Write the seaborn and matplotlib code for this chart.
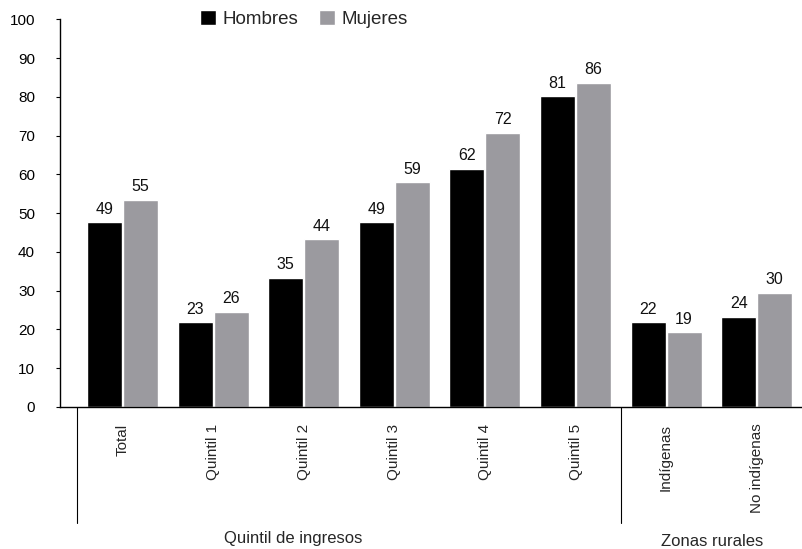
import pandas as pd
import matplotlib.pyplot as plt
import seaborn as sns

# --- Data ---
CATEGORIES = ["Total", "Quintil 1", "Quintil 2", "Quintil 3", "Quintil 4",
              "Quintil 5", "Indígenas", "No indígenas"]
SERIES = ["Hombres", "Mujeres"]

# bar heights as drawn in the reference
HOMBRES = [47.7, 21.9, 33.3, 47.7, 61.4, 80.2, 21.9, 23.2]
MUJERES = [53.4, 24.5, 43.3, 58.0, 70.7, 83.6, 19.3, 29.4]

# printed value labels
HOMBRES_LABELS = ["49", "23", "35", "49", "62", "81", "22", "24"]
MUJERES_LABELS = ["55", "26", "44", "59", "72", "86", "19", "30"]

GROUP_LABELS = ["Quintil de ingresos", "Zonas rurales"]

COLORS = ["#000000", "#9b9a9f"]


def main() -> None:
    df = pd.DataFrame({
        "categoria": CATEGORIES * 2,
        "sexo": [SERIES[0]] * len(CATEGORIES) + [SERIES[1]] * len(CATEGORIES),
        "valor": HOMBRES + MUJERES,
    })

    sns.set_style("white")
    plt.rcParams["font.family"] = ["Liberation Sans", "DejaVu Sans"]

    fig = plt.figure(figsize=(8.02, 5.49), dpi=100)
    ax = fig.add_axes([0.0748, 0.2587, 0.9252, 0.7061])

    sns.barplot(
        data=df, x="categoria", y="valor", hue="sexo",
        order=CATEGORIES, hue_order=SERIES, palette=COLORS,
        width=0.795, gap=0.03, errorbar=None, saturation=1, ax=ax,
    )

    for cont, labs in zip(ax.containers, [HOMBRES_LABELS, MUJERES_LABELS]):
        ax.bar_label(cont, labels=labs, padding=4, fontsize=11.5, color="#111111")

    ax.set_ylim(0, 100)
    ax.set_xlim(-0.69, 7.5)
    ax.set_yticks(range(0, 101, 10))
    ax.set_xlabel("")
    ax.set_ylabel("")

    for side in ["top", "right"]:
        ax.spines[side].set_visible(False)
    for side in ["left", "bottom"]:
        ax.spines[side].set_color("black")
        ax.spines[side].set_linewidth(1.0)

    ax.tick_params(axis="y", direction="out", length=3, width=0.8,
                   pad=15, labelsize=11, colors="black", left=True)
    ax.tick_params(axis="x", length=0, pad=12, labelsize=11)
    plt.setp(ax.get_xticklabels(), rotation=90, va="top", ha="center")

    # group separators below the axis
    trans = ax.get_xaxis_transform()
    for xpos in [-0.5, 5.5]:
        ax.plot([xpos, xpos], [0, -0.3], transform=trans, color="black",
                lw=0.8, clip_on=False)
    ax.text(1.88, -0.34, GROUP_LABELS[0], transform=trans, ha="center",
            va="center", fontsize=12)
    ax.text(6.51, -0.348, GROUP_LABELS[1], transform=trans, ha="center",
            va="center", fontsize=12)

    handles, labels = ax.get_legend_handles_labels()
    ax.legend(
        handles, labels, loc="upper left", ncol=2, frameon=False,
        bbox_to_anchor=(200 / 802, 1 - 10 / 549), bbox_transform=fig.transFigure,
        fontsize=13.5, handlelength=0.85, handleheight=0.85,
        handletextpad=0.35, columnspacing=1.1, borderpad=0, borderaxespad=0,
    )

    fig.savefig("out.png", dpi=100)
    plt.close(fig)


if __name__ == "__main__":
    main()
